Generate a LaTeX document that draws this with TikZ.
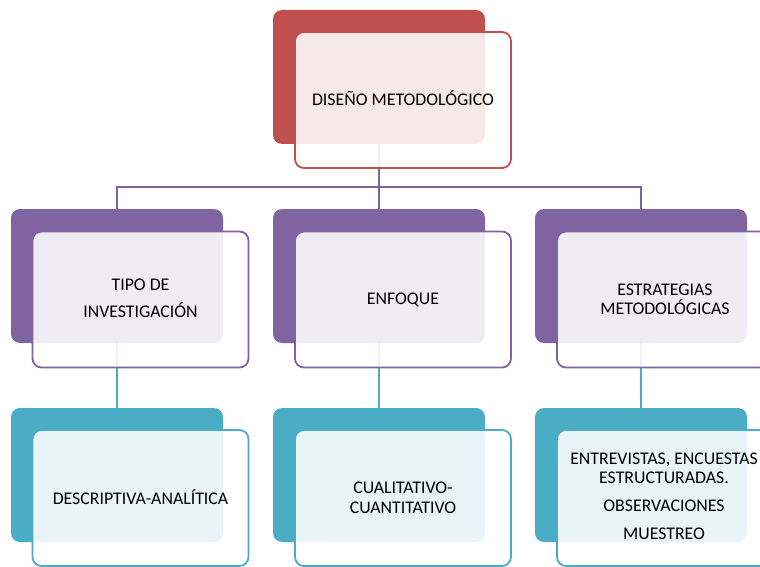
\documentclass[tikz,border=0pt]{standalone}
\usepackage{fontspec}
\setmainfont{Carlito}
\definecolor{cred}{HTML}{C0504D}
\definecolor{cpur}{HTML}{8064A2}
\definecolor{cteal}{HTML}{4BACC6}
\tikzset{
  backbox/.style={rectangle, rounded corners=9pt, minimum width=212pt, minimum height=134pt, inner sep=0pt, fill=#1},
  frontbox/.style={rectangle, rounded corners=9pt, minimum width=216pt, minimum height=136pt, inner sep=0pt, draw=#1, line width=1.8pt, fill=white, fill opacity=0.88},
  label/.style={align=center, font=\fontsize{17.8}{19}\selectfont, text=black, inner sep=0pt},
  link/.style={draw=#1, line width=1.6pt}
}
\begin{document}
\begin{tikzpicture}[x=1pt,y=-1pt]
\useasboundingbox (0,0) rectangle (760,567);
\clip (0,0) rectangle (760,567);
% back boxes
\node[backbox=cred] (b0) at (379,77) {};
\node[backbox=cpur] (b1) at (117,276) {};
\node[backbox=cpur] (b2) at (379,276) {};
\node[backbox=cpur] (b3) at (641,276) {};
\node[backbox=cteal] (c1) at (117,475) {};
\node[backbox=cteal] (c2) at (379,475) {};
\node[backbox=cteal] (c3) at (641,475) {};
% connectors
\coordinate (hub) at (379,187);
\draw[link=cpur] (b0.south) -- (hub);
\draw[link=cpur] (hub) -| (b1.north);
\draw[link=cpur] (hub) -- (b2.north);
\draw[link=cpur] (hub) -| (b3.north);
\draw[link=cteal] (b1.south) -- (c1.north);
\draw[link=cteal] (b2.south) -- (c2.north);
\draw[link=cteal] (b3.south) -- (c3.north);
% front boxes
\node[frontbox=cred] (f0) at (403,100) {};
\node[frontbox=cpur] (f1) at (140.5,299.5) {};
\node[frontbox=cpur] (f2) at (403,299.5) {};
\node[frontbox=cpur] (f3) at (665,299.5) {};
\node[frontbox=cteal] (g1) at (140.5,498) {};
\node[frontbox=cteal] (g2) at (403,498) {};
\node[frontbox=cteal] (g3) at (665,498) {};
% texts
\node[label] (t0) at ([yshift=2pt]f0) {DISEÑO METODOLÓGICO};
\node[label, font=\fontsize{17.8}{27}\selectfont] (t1) at ([yshift=1pt]f1) {TIPO DE\\INVESTIGACIÓN};
\node[label] (t2) at (f2) {ENFOQUE};
\node[label] (t3) at (f3) {ESTRATEGIAS\\METODOLÓGICAS};
\node[label] (u1) at ([yshift=1pt]g1) {DESCRIPTIVA-ANALÍTICA};
\node[label, font=\fontsize{17.8}{20}\selectfont] (u2) at (g2) {CUALITATIVO-\\CUANTITATIVO};
\node[label] (u3) at ([xshift=-1pt,yshift=2pt]g3) {ENTREVISTAS, ENCUESTAS\\ESTRUCTURADAS.\\[9pt]OBSERVACIONES\\[9pt]MUESTREO};
\end{tikzpicture}
\end{document}
